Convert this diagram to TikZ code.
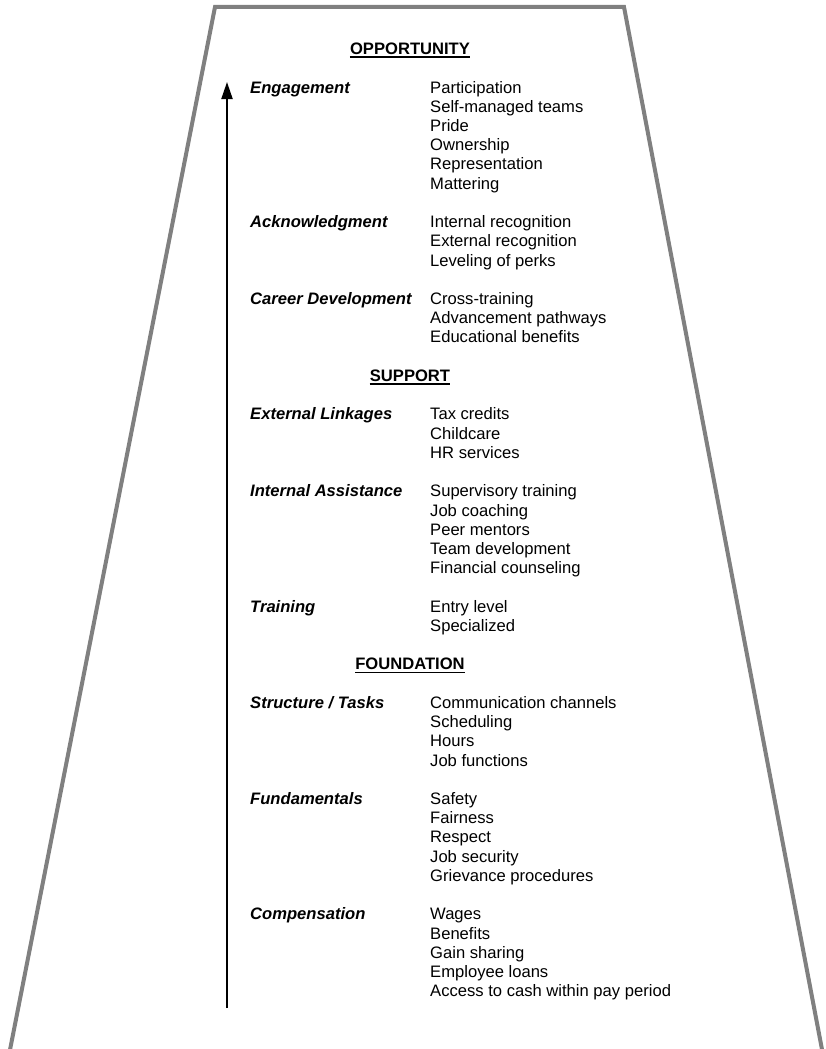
\documentclass[tikz,border=0pt]{standalone}
\usepackage{fontspec}
\setmainfont{Liberation Sans}
\usetikzlibrary{arrows.meta}
\definecolor{frameGray}{HTML}{808080}
\newcommand\diagfont{\fontsize{16.6pt}{19.23pt}\selectfont}

\tikzset{
  heading/.style={font=\diagfont\bfseries, anchor=base, inner sep=0pt},
  grouplabel/.style={font=\diagfont\bfseries\itshape, anchor=base west, inner sep=0pt},
  itemtext/.style={font=\diagfont, anchor=base west, inner sep=0pt},
  headrule/.style={line width=1.4pt}
}

\begin{document}
\begin{tikzpicture}[x=1pt, y=-1pt]
  \useasboundingbox (0,0) rectangle (826,1049);

  % Frame
  \begin{scope}
    \clip (0,0) rectangle (826,1049);
    \draw[frameGray, line width=4pt, line join=miter] (8,1060) -- (215,7) -- (624,7) -- (824,1060);
  \end{scope}

  % Arrow
  \coordinate (arrowfoot) at (227,1008);
  \coordinate (arrowtip) at (227,82);
  \draw[line width=2pt, -{Triangle[length=17pt, width=11pt]}] (arrowfoot) -- (arrowtip);

  % Opportunity
  \node[heading] (opp) at (410, 54.5) {OPPORTUNITY};
  \node[grouplabel] (engagement) at (250, 93) {Engagement};
  \foreach \t [count=\i from 0] in {Participation, Self-managed teams, Pride, Ownership, Representation, Mattering}
    \node[itemtext] (engagement-\i) at (430, {93+19.23*\i}) {\t};
  \node[grouplabel] (acknowledgment) at (250, {93+19.23*7}) {Acknowledgment};
  \foreach \t [count=\i from 7] in {Internal recognition, External recognition, Leveling of perks}
    \node[itemtext] (acknowledgment-\i) at (430, {93+19.23*\i}) {\t};
  \node[grouplabel] (career) at (250, {93+19.23*11}) {Career Development};
  \foreach \t [count=\i from 11] in {Cross-training, Advancement pathways, Educational benefits}
    \node[itemtext] (career-\i) at (430, {93+19.23*\i}) {\t};

  % Support
  \node[heading] (sup) at (410, {93+19.23*15}) {SUPPORT};
  \node[grouplabel] (external) at (250, {93+19.23*17}) {External Linkages};
  \foreach \t [count=\i from 17] in {Tax credits, Childcare, HR services}
    \node[itemtext] (external-\i) at (430, {93+19.23*\i}) {\t};
  \node[grouplabel] (internal) at (250, {93+19.23*21}) {Internal Assistance};
  \foreach \t [count=\i from 21] in {Supervisory training, Job coaching, Peer mentors, Team development, Financial counseling}
    \node[itemtext] (internal-\i) at (430, {93+19.23*\i}) {\t};
  \node[grouplabel] (training) at (250, {93+19.23*27}) {Training};
  \foreach \t [count=\i from 27] in {Entry level, Specialized}
    \node[itemtext] (training-\i) at (430, {93+19.23*\i}) {\t};

  % Foundation
  \node[heading] (fnd) at (410, {93+19.23*30}) {FOUNDATION};
  \node[grouplabel] (structure) at (250, {93+19.23*32}) {Structure / Tasks};
  \foreach \t [count=\i from 32] in {Communication channels, Scheduling, Hours, Job functions}
    \node[itemtext] (structure-\i) at (430, {93+19.23*\i}) {\t};
  \node[grouplabel] (fundamentals) at (250, {93+19.23*37}) {Fundamentals};
  \foreach \t [count=\i from 37] in {Safety, Fairness, Respect, Job security, Grievance procedures}
    \node[itemtext] (fundamentals-\i) at (430, {93+19.23*\i}) {\t};
  \node[grouplabel] (compensation) at (250, {93+19.23*43}) {Compensation};
  \foreach \t [count=\i from 43] in {Wages, Benefits, Gain sharing, Employee loans, Access to cash within pay period}
    \node[itemtext] (compensation-\i) at (430, {93+19.23*\i}) {\t};

  % Heading underlines
  \foreach \h in {opp, sup, fnd}
    \draw[headrule] ([yshift=-2.6pt]\h.base west) -- ([yshift=-2.6pt]\h.base east);
\end{tikzpicture}
\end{document}
